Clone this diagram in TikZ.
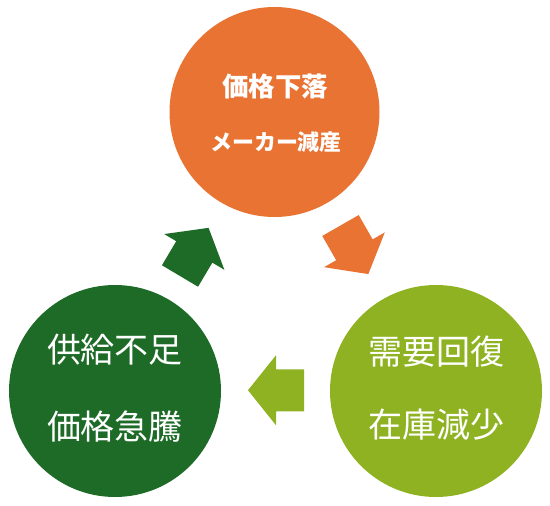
\documentclass[tikz,border=0pt]{standalone}
\usepackage{fontspec}
\newfontfamily\jp{Noto Sans CJK JP}
\definecolor{cOrange}{RGB}{233,115,51}
\definecolor{cLime}{RGB}{142,178,34}
\definecolor{cDark}{RGB}{29,107,39}
\tikzset{
  bubble/.style={circle, minimum size=#1, inner sep=0pt, draw=none},
  label/.style={text=white, inner sep=0pt, font=\jp},
  blockarrow/.pic={\fill (0,-21) -- (28,-21) -- (28,-35) -- (56,0) -- (28,35) -- (28,21) -- (0,21) -- cycle;}
}
\begin{document}
\begin{tikzpicture}[x=1pt,y=-1pt]
\useasboundingbox (0,0) rectangle (550,506);
\node[bubble=210pt, fill=cOrange] (top) at (274.5,112) {};
\node[bubble=212pt, fill=cDark] (left) at (115,391) {};
\node[bubble=212pt, fill=cLime] (right) at (436,391) {};
\node[label, font=\jp\bfseries\fontsize{26.5}{30}\selectfont] (t1) at (275,86) {価格下落};
\node[label, font=\jp\bfseries\fontsize{22}{25}\selectfont] (t2) at (276,142) {メーカー減産};
\node[label, font=\jp\fontsize{34}{38}\selectfont] (l1) at (115,350) {供給不足};
\node[label, font=\jp\fontsize{34}{38}\selectfont] (l2) at (115,427) {価格急騰};
\node[label, font=\jp\fontsize{34}{38}\selectfont] (r1) at (436,352) {需要回復};
\node[label, font=\jp\fontsize{34}{38}\selectfont] (r2) at (436,425) {在庫減少};
\pic[fill=cOrange, rotate=-60.2] at (340.5,225.5) {blockarrow};
\pic[fill=cLime, rotate=180] at (304,390.3) {blockarrow};
\pic[fill=cDark, rotate=59.3] at (180,276) {blockarrow};
\end{tikzpicture}
\end{document}
